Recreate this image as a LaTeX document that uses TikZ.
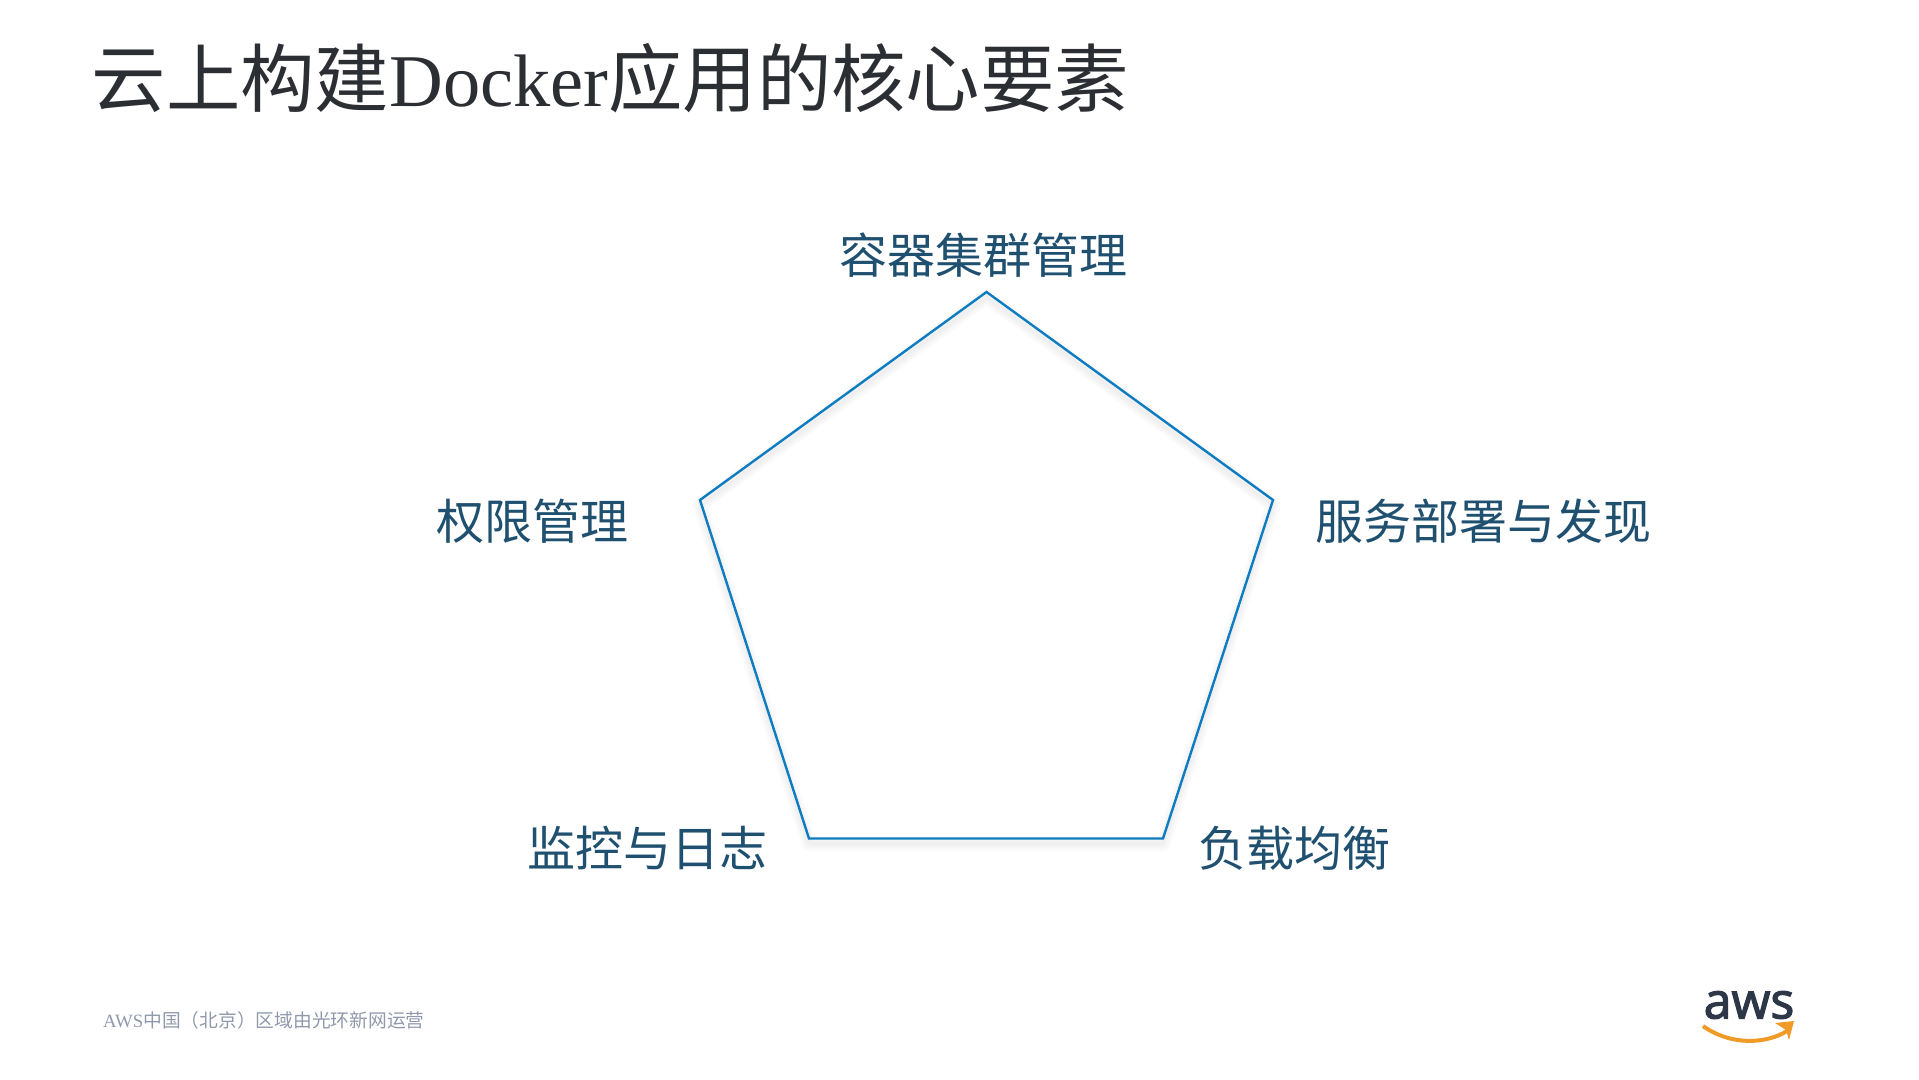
\documentclass[tikz,border=0pt]{standalone}
\usepackage{fontspec}
\setmainfont{Noto Sans CJK SC}
\newfontfamily\latinface{Liberation Serif}
\newfontfamily\logoface{Open Sans}[FakeBold=2.5]
\usepackage{xcolor}
\definecolor{titleink}{RGB}{43,46,51}
\definecolor{labelink}{RGB}{31,80,112}
\definecolor{footink}{RGB}{143,153,171}
\definecolor{pentblue}{RGB}{14,124,192}
\definecolor{logoink}{RGB}{45,55,72}
\definecolor{logoorange}{RGB}{240,155,40}
\tikzset{
    common/.style={inner sep=0pt, anchor=west},
    heading/.style={common, text=titleink, font=\fontsize{74.4}{74}\selectfont},
    corner/.style={common, text=labelink, font=\fontsize{48}{48}\selectfont},
    footer/.style={common, text=footink, font=\fontsize{18.75}{19}\selectfont},
    pentline/.style={draw=pentblue, line width=2.4pt, line join=miter},
    softshadow/.style={draw=black, opacity=0.009, line join=round}
}
\begin{document}
\begin{tikzpicture}[x=1pt, y=-1pt]
    \useasboundingbox (0,0) rectangle (1919,1079);

    \coordinate (top) at (986.5,292);
    \coordinate (right) at (1273,500);
    \coordinate (botright) at (1163,838.5);
    \coordinate (botleft) at (809,838.5);
    \coordinate (left) at (700,500);

    \node[heading] (title) at (91.5,78) {云上构建{\latinface Docker}应用的核心要素};

    \node[corner] (cluster) at (839,255) {容器集群管理};
    \node[corner] (perm) at (436,521) {权限管理};
    \node[corner] (deploy) at (1315,521) {服务部署与发现};
    \node[corner] (monitor) at (527,848) {监控与日志};
    \node[corner] (balance) at (1198,848) {负载均衡};

    % faint shadow under the outline
    \foreach \blur in {2,4,...,16}
        \draw[softshadow, line width=\blur pt] ([yshift=-5pt]top) -- ([yshift=-5pt]right) -- ([yshift=-5pt]botright) -- ([yshift=-5pt]botleft) -- ([yshift=-5pt]left) -- cycle;
    \draw[pentline] (top) -- (right) -- (botright) -- (botleft) -- (left) -- cycle;

    \node[footer] (note) at (103,1020) {{\latinface AWS}中国（北京）区域由光环新网运营};

    \node[common, anchor=center, text=logoink, font=\logoface\fontsize{50}{50}\selectfont] (awsword) at (1749,1005) {aws};
    \coordinate (smilestart) at (1703,1026);
    \coordinate (smileend) at (1787,1031);
    \draw[logoorange, line width=4pt] (smilestart) .. controls (1731,1046) and (1766,1044) .. (smileend);
    \fill[logoorange] (1775,1023) -- (1794,1021) -- (1789,1040) -- (1786,1030) -- cycle;
\end{tikzpicture}
\end{document}
